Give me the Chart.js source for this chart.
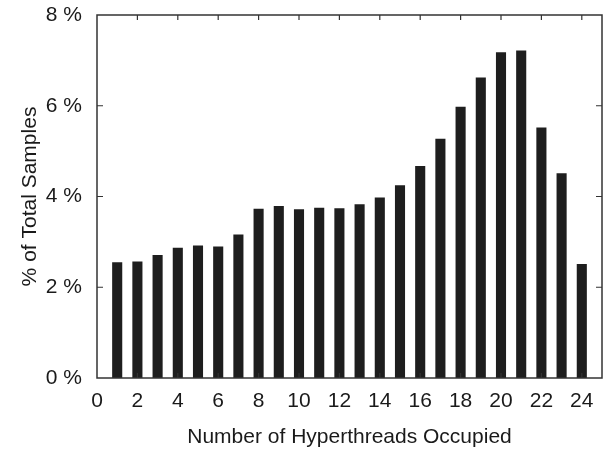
<!DOCTYPE html>
<html>
<head>
<meta charset="utf-8">
<script src="https://cdn.jsdelivr.net/npm/chart.js@4"></script>
<style>
  html, body { margin: 0; padding: 0; background: #fff; }
  #wrap { width: 605px; height: 450px; }
</style>
</head>
<body>
<div id="wrap"><canvas id="c"></canvas></div>
<script>
// hyperthreads occupied and share of samples (%)
const threads = [1, 2, 3, 4, 5, 6, 7, 8, 9, 10, 11, 12, 13, 14, 15, 16, 17, 18, 19, 20, 21, 22, 23, 24];
const samplePct = [2.55, 2.57, 2.71, 2.87, 2.92, 2.90, 3.16, 3.73, 3.79, 3.72, 3.75, 3.74, 3.83, 3.98, 4.25, 4.67, 5.27, 5.98, 6.62, 7.18, 7.22, 5.52, 4.51, 2.51];
const xTicks = [0, 2, 4, 6, 8, 10, 12, 14, 16, 18, 20, 22, 24];
const yTicks = [0, 2, 4, 6, 8];

const FONT = "'Liberation Sans', Arial, sans-serif";
const INK = "#1a1a1a";

// frame box + inward tick marks on all four sides
const framePlugin = {
  id: "frame",
  afterDraw(chart) {
    const { ctx, chartArea: a, scales } = chart;
    ctx.save();
    ctx.strokeStyle = "#333";
    ctx.lineWidth = 1.5;
    ctx.strokeRect(a.left, a.top, a.right - a.left, a.bottom - a.top);
    ctx.lineWidth = 1.2;
    ctx.beginPath();
    xTicks.forEach(v => {
      if (v === 0) return;
      const px = scales.x.getPixelForValue(v);
      ctx.moveTo(px, a.bottom); ctx.lineTo(px, a.bottom - 5);
      ctx.moveTo(px, a.top); ctx.lineTo(px, a.top + 5);
    });
    yTicks.forEach(v => {
      if (v === 0 || v === 8) return;
      const py = scales.y.getPixelForValue(v);
      ctx.moveTo(a.left, py); ctx.lineTo(a.left + 6, py);
      ctx.moveTo(a.right, py); ctx.lineTo(a.right - 6, py);
    });
    ctx.stroke();
    ctx.restore();
  }
};

new Chart(document.getElementById("c"), {
  type: "bar",
  data: {
    datasets: [{
      data: threads.map((t, i) => ({ x: t, y: samplePct[i] })),
      backgroundColor: "#1e1e1e",
      borderWidth: 0,
      barPercentage: 0.5,
      categoryPercentage: 1.0
    }]
  },
  options: {
    responsive: true,
    maintainAspectRatio: false,
    animation: false,
    layout: { padding: { left: 0, right: 3, top: 15, bottom: 0 } },
    plugins: { legend: { display: false }, tooltip: { enabled: false } },
    scales: {
      x: {
        type: "linear",
        min: 0,
        max: 25,
        offset: false,
        grid: { display: false },
        border: { display: false },
        afterBuildTicks: s => { s.ticks = xTicks.map(v => ({ value: v })); },
        afterFit: s => { s.height = 72; },
        ticks: {
          color: INK,
          font: { family: FONT, size: 21 },
          padding: 3,
          maxRotation: 0,
          autoSkip: false
        },
        title: {
          display: true,
          text: "Number of Hyperthreads Occupied",
          color: INK,
          font: { family: FONT, size: 21 },
          padding: { top: 19, bottom: 0 }
        }
      },
      y: {
        min: 0,
        max: 8,
        grid: { display: false },
        border: { display: false },
        afterBuildTicks: s => { s.ticks = yTicks.map(v => ({ value: v })); },
        afterFit: s => { s.width = 97; s.paddingTop = 0; s.paddingBottom = 0; },
        ticks: {
          color: INK,
          font: { family: FONT, size: 21 },
          padding: 7,
          callback: v => v + " %"
        },
        title: {
          display: true,
          text: "% of Total Samples",
          color: INK,
          font: { family: FONT, size: 21 },
          padding: { top: 18, bottom: 0 }
        }
      }
    }
  },
  plugins: [framePlugin]
});
</script>
</body>
</html>
